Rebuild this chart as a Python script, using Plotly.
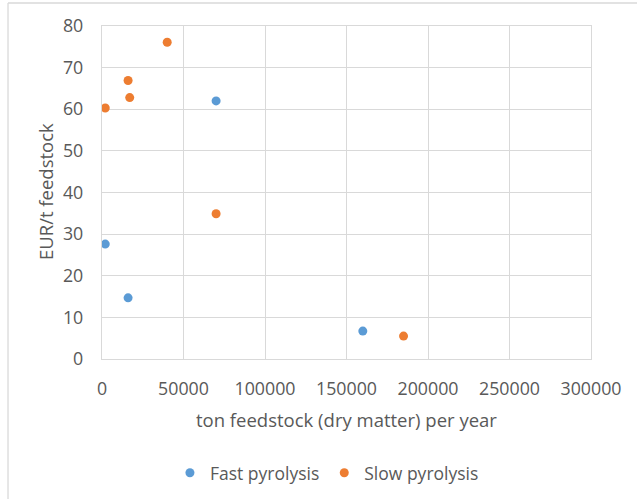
import plotly.graph_objects as go

fast_x = [2000, 16000, 70000, 160000]
fast_y = [27.6, 14.7, 62.0, 6.7]
slow_x = [2000, 16000, 17000, 40000, 70000, 185000]
slow_y = [60.3, 66.9, 62.8, 76.1, 34.9, 5.5]

x_title = "ton feedstock (dry matter) per year"
y_title = "EUR/t feedstock"

FONT = "Open Sans"
GRAY = "#595959"
GRID = "#d9d9d9"

fig = go.Figure()
fig.add_trace(go.Scatter(x=fast_x, y=fast_y, mode="markers", name="Fast pyrolysis",
                         marker=dict(color="#5B9BD5", size=9)))
fig.add_trace(go.Scatter(x=slow_x, y=slow_y, mode="markers", name="Slow pyrolysis",
                         marker=dict(color="#ED7D31", size=9)))

# plot area: left 102, right 591, top 26, bottom 359 (px)
fig.update_layout(
    width=637, height=499,
    margin=dict(l=102, r=46, t=26, b=140, autoexpand=False),
    paper_bgcolor="white", plot_bgcolor="white",
    font=dict(family=FONT, size=17, color=GRAY),
    showlegend=True,
    legend=dict(orientation="h", x=0.46, xanchor="center", y=-0.342, yanchor="middle",
                font=dict(size=17.5, color=GRAY), itemwidth=30),
    xaxis=dict(range=[0, 300000], dtick=50000, tickformat="d", automargin=False,
               showgrid=True, gridcolor=GRID, gridwidth=1.3,
               showline=True, linecolor=GRID, linewidth=1.3, mirror=True,
               zeroline=False, ticks="", ticklabelstandoff=13,
               tickfont=dict(size=17.8, color=GRAY)),
    yaxis=dict(range=[0, 80], dtick=10, automargin=False,
               showgrid=True, gridcolor=GRID, gridwidth=1.3,
               showline=True, linecolor=GRID, linewidth=1.3, mirror=True,
               zeroline=False, ticks="", ticklabelstandoff=14,
               tickfont=dict(size=17.8, color=GRAY)),
    annotations=[
        dict(text=x_title, xref="paper", yref="paper", x=(346 - 102) / 489, y=(359 - 419) / 333,
             xanchor="center", yanchor="middle", showarrow=False,
             font=dict(size=18.5, color=GRAY)),
        dict(text=y_title, xref="paper", yref="paper", x=(45 - 102) / 489, y=(359 - 192) / 333,
             xanchor="center", yanchor="middle", showarrow=False, textangle=-90,
             font=dict(size=18.5, color=GRAY)),
    ],
    shapes=[
        dict(type="line", xref="paper", yref="paper", x0=-0.1922, x1=1.2, y0=1.069, y1=1.069,
             line=dict(color=GRID, width=1.3)),
        dict(type="line", xref="paper", yref="paper", x0=-0.1922, x1=-0.1922, y0=1.069, y1=-0.45,
             line=dict(color=GRID, width=1.3)),
    ],
)

fig.write_html("out.html")
